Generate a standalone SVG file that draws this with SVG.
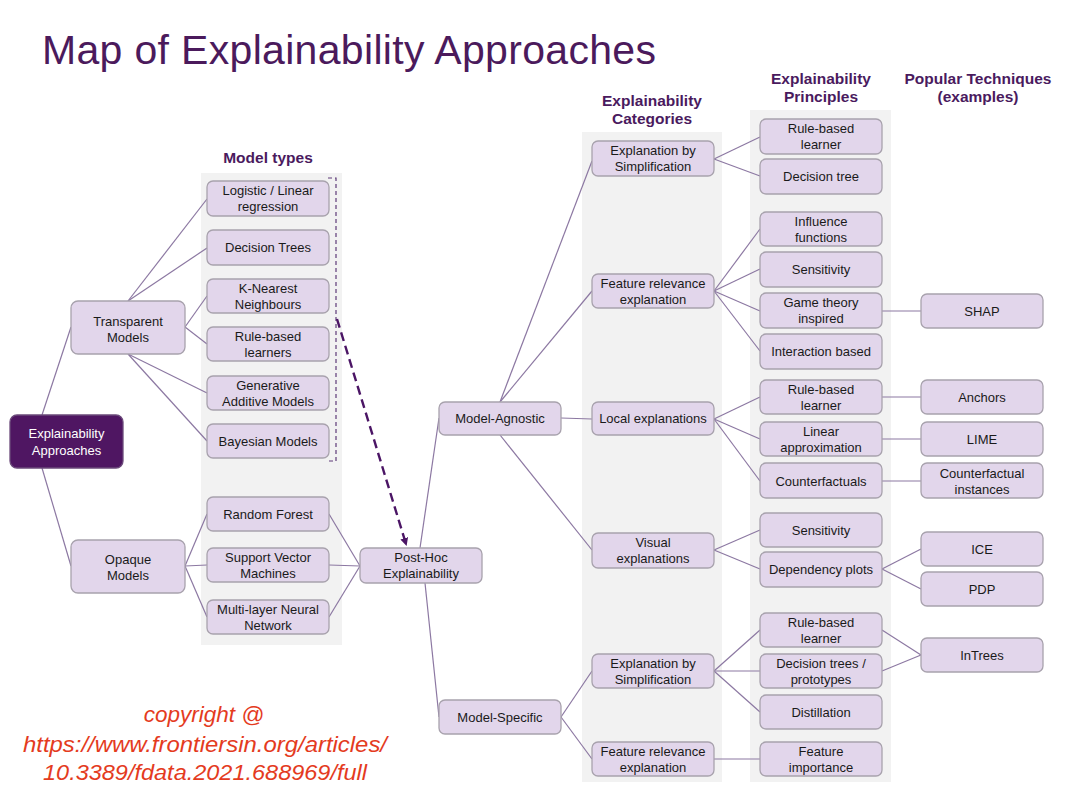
<svg xmlns="http://www.w3.org/2000/svg" width="1065" height="799" viewBox="0 0 1065 799">
<defs>
<style>
.panel{fill:#f2f2f2}
.n rect{fill:#e2d6eb;stroke:#a8a2ad;stroke-width:1.3}
.n text,.t{font-family:"Liberation Sans",Arial,sans-serif;font-size:13px;fill:#1a1a1a;text-anchor:middle}
.dark rect{fill:#4f1662;stroke:#6b4a7a}
.dark text{fill:#ffffff}
.h{font-family:"Liberation Sans",Arial,sans-serif;font-size:15.5px;font-weight:bold;fill:#4a1a5e;text-anchor:middle}
.c line,.c path{stroke:#8c78a2;stroke-width:1.2;fill:none}
.cr{font-family:"Liberation Sans",Arial,sans-serif;font-size:22.5px;font-style:italic;fill:#e43b1e;text-anchor:middle}
</style>
<marker id="ah" markerWidth="8" markerHeight="8" refX="6" refY="4" orient="auto" markerUnits="userSpaceOnUse">
<path d="M0,0 L8,4 L0,8 Z" fill="#4b1565"/>
</marker>
</defs>
<rect width="1065" height="799" fill="#ffffff"/>
<text x="42" y="64" font-family="'Liberation Sans',Arial,sans-serif" font-size="41" fill="#4b1a5c" textLength="614" lengthAdjust="spacing">Map of Explainability  Approaches</text>

<rect class="panel" x="201" y="173" width="141" height="472"/>
<rect class="panel" x="582" y="132" width="140" height="650"/>
<rect class="panel" x="750" y="110" width="141" height="672"/>

<text class="h" x="268" y="163">Model types</text>
<text class="h" x="652" y="106">Explainability</text>
<text class="h" x="652" y="124">Categories</text>
<text class="h" x="821" y="84">Explainability</text>
<text class="h" x="821" y="102">Principles</text>
<text class="h" x="978" y="84">Popular Techniques</text>
<text class="h" x="978" y="102">(examples)</text>

<g id="connectors" class="c">
<line x1="42" y1="415" x2="71" y2="327"/>
<line x1="42" y1="468" x2="71" y2="566"/>
<line x1="128" y1="301" x2="207" y2="199"/>
<line x1="128" y1="301" x2="207" y2="248"/>
<line x1="185" y1="327" x2="207" y2="296"/>
<line x1="185" y1="327" x2="207" y2="344"/>
<line x1="128" y1="354" x2="207" y2="393"/>
<line x1="128" y1="354" x2="207" y2="441"/>
<line x1="185" y1="566" x2="207" y2="514"/>
<line x1="185" y1="566" x2="207" y2="565"/>
<line x1="185" y1="566" x2="207" y2="617"/>
<line x1="329" y1="514" x2="360" y2="566"/>
<line x1="329" y1="565" x2="360" y2="566"/>
<line x1="329" y1="617" x2="360" y2="566"/>
<line x1="420" y1="548" x2="439" y2="418"/>
<line x1="425" y1="583" x2="439" y2="717"/>
<line x1="500" y1="402" x2="592" y2="161"/>
<line x1="500" y1="402" x2="592" y2="291"/>
<line x1="561" y1="418" x2="592" y2="419"/>
<line x1="500" y1="435" x2="592" y2="550"/>
<line x1="561" y1="717" x2="592" y2="671"/>
<line x1="561" y1="717" x2="592" y2="759"/>
<line x1="714" y1="159" x2="760" y2="137"/>
<line x1="714" y1="159" x2="760" y2="176"/>
<line x1="714" y1="291" x2="760" y2="229"/>
<line x1="714" y1="291" x2="760" y2="269"/>
<line x1="714" y1="291" x2="760" y2="311"/>
<line x1="714" y1="291" x2="760" y2="351"/>
<line x1="714" y1="419" x2="760" y2="397"/>
<line x1="714" y1="419" x2="760" y2="439"/>
<line x1="714" y1="419" x2="760" y2="481"/>
<line x1="714" y1="550" x2="760" y2="530"/>
<line x1="714" y1="550" x2="760" y2="569"/>
<line x1="714" y1="671" x2="760" y2="630"/>
<line x1="714" y1="671" x2="760" y2="671"/>
<line x1="714" y1="671" x2="760" y2="712"/>
<line x1="714" y1="759" x2="760" y2="759"/>
<line x1="882" y1="311" x2="921" y2="311"/>
<line x1="882" y1="397" x2="921" y2="397"/>
<line x1="882" y1="439" x2="921" y2="439"/>
<line x1="882" y1="481" x2="921" y2="481"/>
<line x1="882" y1="569" x2="921" y2="549"/>
<line x1="882" y1="569" x2="921" y2="589"/>
<line x1="882" y1="630" x2="921" y2="655"/>
<line x1="882" y1="671" x2="921" y2="655"/>
<path d="M328,178 H336 V461 H328" style="stroke:#5e3a78;stroke-width:1.2;stroke-dasharray:4 3"/>
<line x1="337" y1="319" x2="406" y2="544" style="stroke:#4b1565;stroke-width:2.4;stroke-dasharray:9 5" marker-end="url(#ah)"/>
</g>

<g id="approaches" class="n dark"><rect x="10" y="415" width="113" height="53" rx="7"/><text x="66.5" y="438">Explainability</text><text x="66.5" y="455">Approaches</text></g>
<g id="transparent" class="n"><rect x="71" y="301" width="114" height="53" rx="7"/><text x="128" y="326">Transparent</text><text x="128" y="342">Models</text></g>
<g id="opaque" class="n"><rect x="71" y="540" width="114" height="53" rx="7"/><text x="128" y="564">Opaque</text><text x="128" y="580">Models</text></g>

<g id="logistic" class="n"><rect x="207" y="181" width="122" height="35" rx="6"/><text x="268" y="195">Logistic / Linear</text><text x="268" y="211">regression</text></g>
<g id="dtrees" class="n"><rect x="207" y="230" width="122" height="35" rx="6"/><text x="268" y="252">Decision  Trees</text></g>
<g id="knn" class="n"><rect x="207" y="279" width="122" height="34" rx="6"/><text x="268" y="293">K-Nearest</text><text x="268" y="309">Neighbours</text></g>
<g id="rbl" class="n"><rect x="207" y="327" width="122" height="34" rx="6"/><text x="268" y="341">Rule-based</text><text x="268" y="357">learners</text></g>
<g id="gam" class="n"><rect x="207" y="376" width="122" height="34" rx="6"/><text x="268" y="390">Generative</text><text x="268" y="406">Additive  Models</text></g>
<g id="bayes" class="n"><rect x="207" y="424" width="122" height="34" rx="6"/><text x="268" y="446">Bayesian Models</text></g>
<g id="rf" class="n"><rect x="207" y="497" width="122" height="34" rx="6"/><text x="268" y="519">Random  Forest</text></g>
<g id="svm" class="n"><rect x="207" y="548" width="122" height="34" rx="6"/><text x="268" y="562">Support  Vector</text><text x="268" y="578">Machines</text></g>
<g id="mlnn" class="n"><rect x="207" y="600" width="122" height="34" rx="6"/><text x="268" y="614">Multi-layer Neural</text><text x="268" y="630">Network</text></g>

<g id="posthoc" class="n"><rect x="360" y="548" width="122" height="35" rx="6"/><text x="421" y="562">Post-Hoc</text><text x="421" y="578">Explainability</text></g>
<g id="agnostic" class="n"><rect x="439" y="402" width="122" height="33" rx="6"/><text x="500" y="423">Model-Agnostic</text></g>
<g id="specific" class="n"><rect x="439" y="700" width="122" height="34" rx="6"/><text x="500" y="722">Model-Specific</text></g>

<g id="cat-simp1" class="n"><rect x="592" y="141" width="122" height="35" rx="6"/><text x="653" y="155">Explanation by</text><text x="653" y="171">Simplification</text></g>
<g id="cat-feat1" class="n"><rect x="592" y="274" width="122" height="34" rx="6"/><text x="653" y="288">Feature relevance</text><text x="653" y="304">explanation</text></g>
<g id="cat-local" class="n"><rect x="592" y="402" width="122" height="33" rx="6"/><text x="653" y="423">Local explanations</text></g>
<g id="cat-visual" class="n"><rect x="592" y="533" width="122" height="35" rx="6"/><text x="653" y="547">Visual</text><text x="653" y="563">explanations</text></g>
<g id="cat-simp2" class="n"><rect x="592" y="654" width="122" height="34" rx="6"/><text x="653" y="668">Explanation by</text><text x="653" y="684">Simplification</text></g>
<g id="cat-feat2" class="n"><rect x="592" y="742" width="122" height="34" rx="6"/><text x="653" y="756">Feature relevance</text><text x="653" y="772">explanation</text></g>

<g id="p-rbl1" class="n"><rect x="760" y="119" width="122" height="35" rx="6"/><text x="821" y="133">Rule-based</text><text x="821" y="149">learner</text></g>
<g id="p-dt" class="n"><rect x="760" y="159" width="122" height="35" rx="6"/><text x="821" y="181">Decision tree</text></g>
<g id="p-infl" class="n"><rect x="760" y="212" width="122" height="34" rx="6"/><text x="821" y="226">Influence</text><text x="821" y="242">functions</text></g>
<g id="p-sens1" class="n"><rect x="760" y="252" width="122" height="35" rx="6"/><text x="821" y="274">Sensitivity</text></g>
<g id="p-game" class="n"><rect x="760" y="293" width="122" height="35" rx="6"/><text x="821" y="307">Game theory</text><text x="821" y="323">inspired</text></g>
<g id="p-inter" class="n"><rect x="760" y="334" width="122" height="35" rx="6"/><text x="821" y="356">Interaction based</text></g>
<g id="p-rbl2" class="n"><rect x="760" y="380" width="122" height="34" rx="6"/><text x="821" y="394">Rule-based</text><text x="821" y="410">learner</text></g>
<g id="p-lin" class="n"><rect x="760" y="422" width="122" height="34" rx="6"/><text x="821" y="436">Linear</text><text x="821" y="452">approximation</text></g>
<g id="p-cf" class="n"><rect x="760" y="463" width="122" height="35" rx="6"/><text x="821" y="486">Counterfactuals</text></g>
<g id="p-sens2" class="n"><rect x="760" y="513" width="122" height="34" rx="6"/><text x="821" y="535">Sensitivity</text></g>
<g id="p-dep" class="n"><rect x="760" y="552" width="122" height="35" rx="6"/><text x="821" y="574">Dependency  plots</text></g>
<g id="p-rbl3" class="n"><rect x="760" y="613" width="122" height="34" rx="6"/><text x="821" y="627">Rule-based</text><text x="821" y="643">learner</text></g>
<g id="p-dtp" class="n"><rect x="760" y="654" width="122" height="34" rx="6"/><text x="821" y="668">Decision trees /</text><text x="821" y="684">prototypes</text></g>
<g id="p-dist" class="n"><rect x="760" y="695" width="122" height="34" rx="6"/><text x="821" y="717">Distillation</text></g>
<g id="p-fi" class="n"><rect x="760" y="742" width="122" height="34" rx="6"/><text x="821" y="756">Feature</text><text x="821" y="772">importance</text></g>

<g id="t-shap" class="n"><rect x="921" y="294" width="122" height="34" rx="6"/><text x="982" y="316">SHAP</text></g>
<g id="t-anchors" class="n"><rect x="921" y="380" width="122" height="34" rx="6"/><text x="982" y="402">Anchors</text></g>
<g id="t-lime" class="n"><rect x="921" y="422" width="122" height="34" rx="6"/><text x="982" y="444">LIME</text></g>
<g id="t-cfi" class="n"><rect x="921" y="463" width="122" height="35" rx="6"/><text x="982" y="478">Counterfactual</text><text x="982" y="494">instances</text></g>
<g id="t-ice" class="n"><rect x="921" y="532" width="122" height="34" rx="6"/><text x="982" y="554">ICE</text></g>
<g id="t-pdp" class="n"><rect x="921" y="572" width="122" height="34" rx="6"/><text x="982" y="594">PDP</text></g>
<g id="t-intrees" class="n"><rect x="921" y="638" width="122" height="34" rx="6"/><text x="982" y="660">InTrees</text></g>

<text class="cr" x="204" y="722">copyright @</text>
<text class="cr" x="205" y="752" textLength="364" lengthAdjust="spacingAndGlyphs">https://www.frontiersin.org/articles/</text>
<text class="cr" x="205" y="780" textLength="324" lengthAdjust="spacingAndGlyphs">10.3389/fdata.2021.688969/full</text>
</svg>
